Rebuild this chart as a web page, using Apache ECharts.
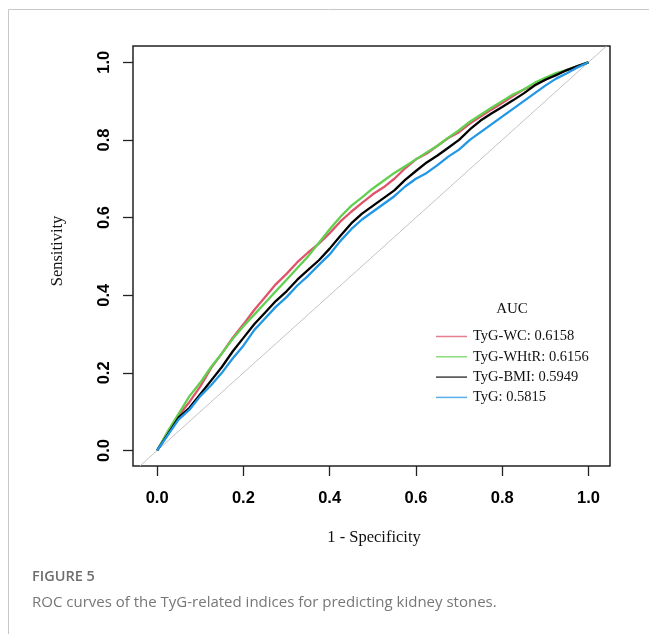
<!DOCTYPE html>
<html>
<head>
<meta charset="utf-8">
<script src="https://cdn.jsdelivr.net/npm/echarts@6/dist/echarts.min.js"></script>
<style>
html, body { margin: 0; padding: 0; background: #fff; }
#roc_chart { width: 649px; height: 634px; }
</style>
</head>
<body>
<div id="roc_chart"></div>
<script>
// 1 - specificity, shared by all curves
const fpr = [0, 0.025, 0.05, 0.075, 0.1, 0.125, 0.15, 0.175, 0.2, 0.225, 0.25, 0.275, 0.3, 0.325, 0.35, 0.375, 0.4, 0.425, 0.45, 0.475, 0.5,
	0.525, 0.55, 0.575, 0.6, 0.625, 0.65, 0.675, 0.7, 0.725, 0.75, 0.775, 0.8, 0.825, 0.85, 0.875, 0.9, 0.925, 0.95, 0.975, 1];

// sensitivity
const tygWC = [0, .048, .09, .125, .165, .212, .25, .29, .325, .362, .395, .428, .455, .485, .51, .533, .56, .59, .615, .638, .66,
	.678, .70, .727, .75, .765, .785, .805, .82, .842, .86, .878, .895, .913, .93, .942, .955, .97, .98, .99, 1];
const tygWHtR = [0, .05, .095, .14, .175, .215, .25, .287, .32, .35, .38, .41, .44, .47, .50, .535, .57, .602, .63, .652, .675,
	.695, .715, .732, .75, .768, .785, .806, .825, .847, .865, .883, .90, .917, .93, .947, .96, .972, .98, .99, 1];
const tygBMI = [0, .042, .085, .11, .145, .18, .215, .255, .29, .325, .355, .385, .41, .44, .465, .49, .52, .553, .585, .61, .63,
	.65, .67, .697, .72, .742, .76, .78, .80, .827, .85, .868, .885, .902, .92, .94, .955, .967, .98, .99, 1];
const tyg = [0, .04, .08, .105, .14, .168, .20, .237, .27, .31, .34, .37, .395, .425, .45, .478, .505, .54, .57, .595, .615,
	.635, .655, .68, .70, .715, .735, .757, .775, .80, .82, .84, .86, .88, .90, .92, .94, .958, .972, .987, 1];

const seriesNames = ['TyG-WC: 0.6158', 'TyG-WHtR: 0.6156', 'TyG-BMI: 0.5949', 'TyG: 0.5815'];
const seriesValues = [tygWC, tygWHtR, tygBMI, tyg];
const seriesColors = ['#DF536B', '#61D04F', '#000000', '#2297E6'];

const tickValues = [0, 0.2, 0.4, 0.6, 0.8, 1.0];
const tickLabels = ['0.0', '0.2', '0.4', '0.6', '0.8', '1.0'];
const diagonal = [[-0.04, -0.04], [1.042, 1.042]];

const chartDom = document.getElementById('roc_chart');
const myChart = echarts.init(chartDom, null, {renderer: 'canvas'});

const tickLabel = v => {
	const i = tickValues.findIndex(t => Math.abs(t - v) < 1e-6);
	return i < 0 ? '' : tickLabels[i];
};
const labelFont = {color: '#000', fontFamily: 'Liberation Sans', fontWeight: 'bold', fontSize: 16.5};

let series = seriesNames.map((name, k) => ({
	name: name,
	type: 'line',
	showSymbol: false,
	silent: true,
	color: seriesColors[k],
	lineStyle: {width: 2.3, color: seriesColors[k]},
	data: fpr.map((x, i) => [x, seriesValues[k][i]]),
	z: 3 + k
}));
series.unshift({
	name: 'ref',
	type: 'line',
	showSymbol: false,
	silent: true,
	lineStyle: {width: 1, color: '#c4c4c4'},
	data: diagonal,
	z: 2
});

let option = {
	animation: false,
	grid: {left: 133, top: 46, width: 477, height: 420, show: true, borderColor: '#222', borderWidth: 1.5, backgroundColor: 'transparent'},
	xAxis: {
		type: 'value', min: -0.056, max: 1.05,
		splitLine: {show: false},
		axisLine: {show: false, onZero: false},
		axisTick: {show: true, length: 10, customValues: tickValues, lineStyle: {color: '#222', width: 1.3}},
		axisLabel: {customValues: tickValues, formatter: tickLabel, margin: 24, ...labelFont}
	},
	yAxis: {
		type: 'value', min: -0.04, max: 1.042,
		splitLine: {show: false},
		axisLine: {show: false, onZero: false},
		axisTick: {show: true, length: 10, customValues: tickValues, lineStyle: {color: '#222', width: 1.3}},
		axisLabel: {customValues: tickValues, formatter: tickLabel, margin: 20, rotate: 90, ...labelFont}
	},
	legend: {
		data: seriesNames,
		orient: 'vertical',
		left: 431, top: 324,
		icon: 'rect',
		itemWidth: 31, itemHeight: 1.5,
		itemGap: 5.3,
		itemStyle: {opacity: 0.75},
		selectedMode: false,
		textStyle: {fontFamily: 'Liberation Serif', fontSize: 14.5, color: '#111', lineHeight: 14, padding: [0, 0, 0, 1]}
	},
	graphic: [
		{type: 'line', shape: {x1: 8.5, y1: 9.5, x2: 649, y2: 9.5}, style: {stroke: '#c8c8c8', lineWidth: 1}, silent: true},
		{type: 'line', shape: {x1: 8.5, y1: 9.5, x2: 8.5, y2: 634}, style: {stroke: '#c8c8c8', lineWidth: 1}, silent: true},
		{type: 'text', x: 512, y: 309, style: {text: 'AUC', font: '15px "Liberation Serif"', fill: '#111', textAlign: 'center', textVerticalAlign: 'middle'}},
		{type: 'text', x: 374, y: 538, style: {text: '1 - Specificity', font: '16.5px "Liberation Serif"', fill: '#111', textAlign: 'center', textVerticalAlign: 'middle'}},
		{type: 'text', x: 58, y: 251, rotation: Math.PI / 2, style: {text: 'Sensitivity', font: '16.5px "Liberation Serif"', fill: '#111', textAlign: 'center', textVerticalAlign: 'middle'}},
		{type: 'text', x: 32, y: 577, style: {text: 'FIGURE 5', font: '600 14.5px "Open Sans"', fill: '#6e6e6e', textVerticalAlign: 'middle'}},
		{type: 'text', x: 32, y: 603, style: {text: 'ROC curves of the TyG-related indices for predicting kidney stones.', font: '15px "Open Sans"', fill: '#777', textVerticalAlign: 'middle'}}
	],
	series: series
};

option && myChart.setOption(option);
</script>
</body>
</html>
